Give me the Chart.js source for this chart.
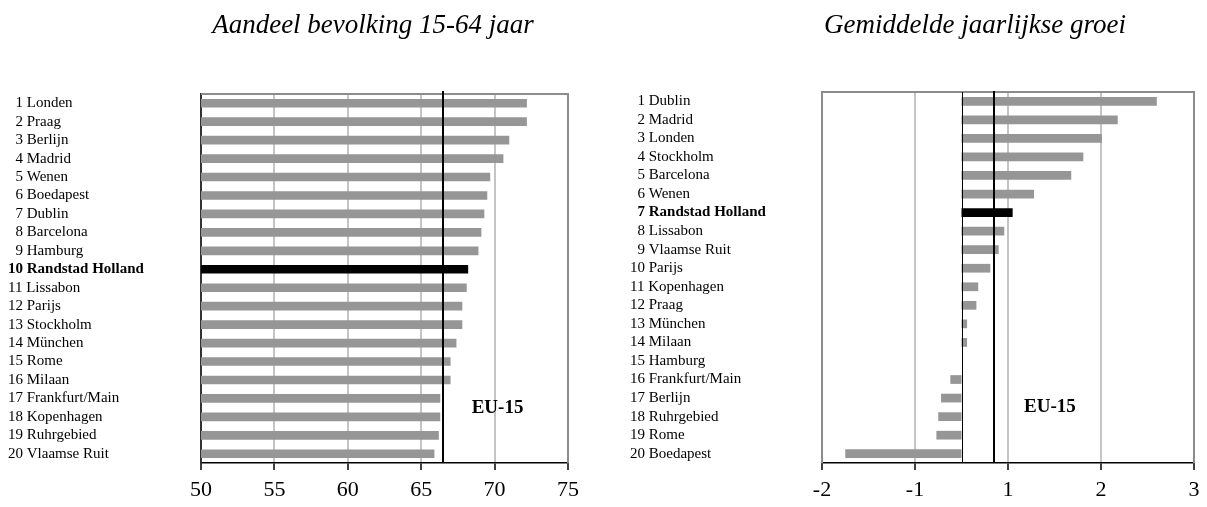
<!DOCTYPE html>
<html><head><meta charset="utf-8">
<script src="https://cdn.jsdelivr.net/npm/chart.js@4.4.1/dist/chart.umd.min.js"></script>
<style>
html,body{margin:0;padding:0;background:#fff;}
#wrap{position:relative;width:1207px;height:507px;overflow:hidden;background:#fff;}
.title{position:absolute;top:11px;width:500px;text-align:center;font-family:"Liberation Serif","Times New Roman",serif;font-style:italic;font-size:27px;line-height:27px;color:#000;white-space:nowrap;}
#c1{position:absolute;left:0;top:0;}
#c2{position:absolute;left:600px;top:0;}
</style></head>
<body><div id="wrap">
<canvas id="c1" width="600" height="507"></canvas>
<canvas id="c2" width="607" height="507"></canvas>
<div class="title" style="left:123px">Aandeel bevolking 15-64 jaar</div>
<div class="title" style="left:725px">Gemiddelde jaarlijkse groei</div>
</div>
<script>
const leftCategories = ['Londen','Praag','Berlijn','Madrid','Wenen','Boedapest','Dublin','Barcelona','Hamburg','Randstad Holland','Lissabon','Parijs','Stockholm','München','Rome','Milaan','Frankfurt/Main','Kopenhagen','Ruhrgebied','Vlaamse Ruit'];
const leftValues = [72.2,72.2,71.0,70.6,69.7,69.5,69.3,69.1,68.9,68.2,68.1,67.8,67.8,67.4,67.0,67.0,66.3,66.3,66.2,65.9];
const leftEU = 66.5;
const leftTickValues = [50,55,60,65,70,75];
const leftTickLabels = ['50','55','60','65','70','75'];

const rightCategories = ['Dublin','Madrid','Londen','Stockholm','Barcelona','Wenen','Randstad Holland','Lissabon','Vlaamse Ruit','Parijs','Kopenhagen','Praag','München','Milaan','Hamburg','Frankfurt/Main','Berlijn','Ruhrgebied','Rome','Boedapest'];
const rightValues = [2.10,1.68,1.51,1.31,1.18,0.78,0.55,0.46,0.40,0.31,0.18,0.16,0.06,0.06,0.0,-0.12,-0.22,-0.25,-0.27,-1.25];
const rightEU = 0.35;
const rightTickValues = [-1.5,-0.5,0.5,1.5,2.5];
const rightTickLabels = ['-2','-1','1','2','3'];

const highlight = 'Randstad Holland';
const euLabel = 'EU-15';

const SERIF = '"Liberation Serif", "Times New Roman", serif';

function makeOverlay(cfg) {
  return {
    id: 'overlay',
    beforeDatasetsDraw(chart) {
      const {ctx, chartArea: a} = chart;
      ctx.save();
      ctx.strokeStyle = '#8c8c8c';
      ctx.lineWidth = 2;
      ctx.beginPath();
      if (cfg.frameLeft) { ctx.moveTo(a.left, a.bottom); ctx.lineTo(a.left, a.top); }
      else { ctx.moveTo(a.left, a.top); }
      ctx.lineTo(a.right, a.top);
      ctx.lineTo(a.right, a.bottom);
      ctx.stroke();
      ctx.restore();
    },
    afterDatasetsDraw(chart) {
      const {ctx, chartArea: a, scales} = chart;
      const x = scales.x, y = scales.y;
      ctx.save();
      ctx.strokeStyle = '#000';
      if (cfg.zeroLine) {
        const zx = Math.round(x.getPixelForValue(0)) + 0.5;
        ctx.lineWidth = 1;
        ctx.beginPath(); ctx.moveTo(zx, a.top); ctx.lineTo(zx, a.bottom); ctx.stroke();
      }
      const ex = Math.round(x.getPixelForValue(cfg.eu));
      ctx.lineWidth = 2;
      ctx.beginPath(); ctx.moveTo(ex, a.top - cfg.euOver); ctx.lineTo(ex, a.bottom); ctx.stroke();
      ctx.fillStyle = '#000';
      ctx.font = 'bold 19px ' + SERIF;
      ctx.textAlign = 'center';
      ctx.textBaseline = 'middle';
      ctx.fillText(euLabel, x.getPixelForValue(cfg.labelX), y.getPixelForValue(cfg.labelY));
      ctx.restore();
    }
  };
}

function makeChart(id, cats, vals, tickVals, tickLbls, xmin, xmax, pad, yWidth, overlay, yBorder) {
  return new Chart(document.getElementById(id), {
    type: 'bar',
    data: {
      labels: cats,
      datasets: [{
        data: vals,
        backgroundColor: cats.map(c => c === highlight ? '#000000' : '#969696'),
        borderWidth: 0,
        barPercentage: 0.47,
        categoryPercentage: 1.0
      }]
    },
    options: {
      indexAxis: 'y',
      responsive: false,
      animation: false,
      layout: { padding: pad },
      plugins: { legend: { display: false }, tooltip: { enabled: false }, title: { display: false } },
      scales: {
        x: {
          type: 'linear',
          min: xmin, max: xmax,
          afterBuildTicks: (s) => { s.ticks = tickVals.map(v => ({ value: v })); },
          afterFit: (s) => { s.height = 44; },
          ticks: {
            autoSkip: false,
            maxRotation: 0,
            padding: 7,
            color: '#000',
            font: { family: SERIF, size: 22 },
            callback: (v, i) => tickLbls[i]
          },
          grid: {
            color: (c) => (c.tick && (c.tick.value === xmin || c.tick.value === xmax)) ? 'rgba(0,0,0,0)' : '#c4c4c4',
            lineWidth: 2,
            tickColor: '#000',
            tickWidth: 1.5,
            tickLength: 7
          },
          border: { display: true, color: '#000', width: 1.5 }
        },
        y: {
          afterFit: (s) => { s.width = yWidth; },
          ticks: {
            crossAlign: 'far',
            padding: 0,
            color: '#000',
            autoSkip: false,
            font: (c) => ({ family: SERIF, size: 15, weight: (cats[c.index] === highlight) ? 'bold' : 'normal' }),
            callback: function(v, i) {
              const n = i + 1;
              return (n < 10 ? '\u2007' : '') + n + ' ' + cats[i];
            }
          },
          grid: { display: false, drawTicks: false },
          border: yBorder
        }
      }
    },
    plugins: [overlay]
  });
}

makeChart('c1', leftCategories, leftValues, leftTickValues, leftTickLabels, 50, 75,
  { left: 8, top: 94, right: 32, bottom: 0 }, 193,
  makeOverlay({ frameLeft: false, zeroLine: false, eu: leftEU, euOver: 3, labelX: 70.2, labelY: 16.5 }),
  { display: true, color: '#333333', width: 2 });

makeChart('c2', rightCategories, rightValues, rightTickValues, rightTickLabels, -1.5, 2.5,
  { left: 30, top: 92, right: 13, bottom: 0 }, 192,
  makeOverlay({ frameLeft: true, zeroLine: true, eu: rightEU, euOver: 1, labelX: 0.95, labelY: 16.5 }),
  { display: false });
</script>
</body></html>
